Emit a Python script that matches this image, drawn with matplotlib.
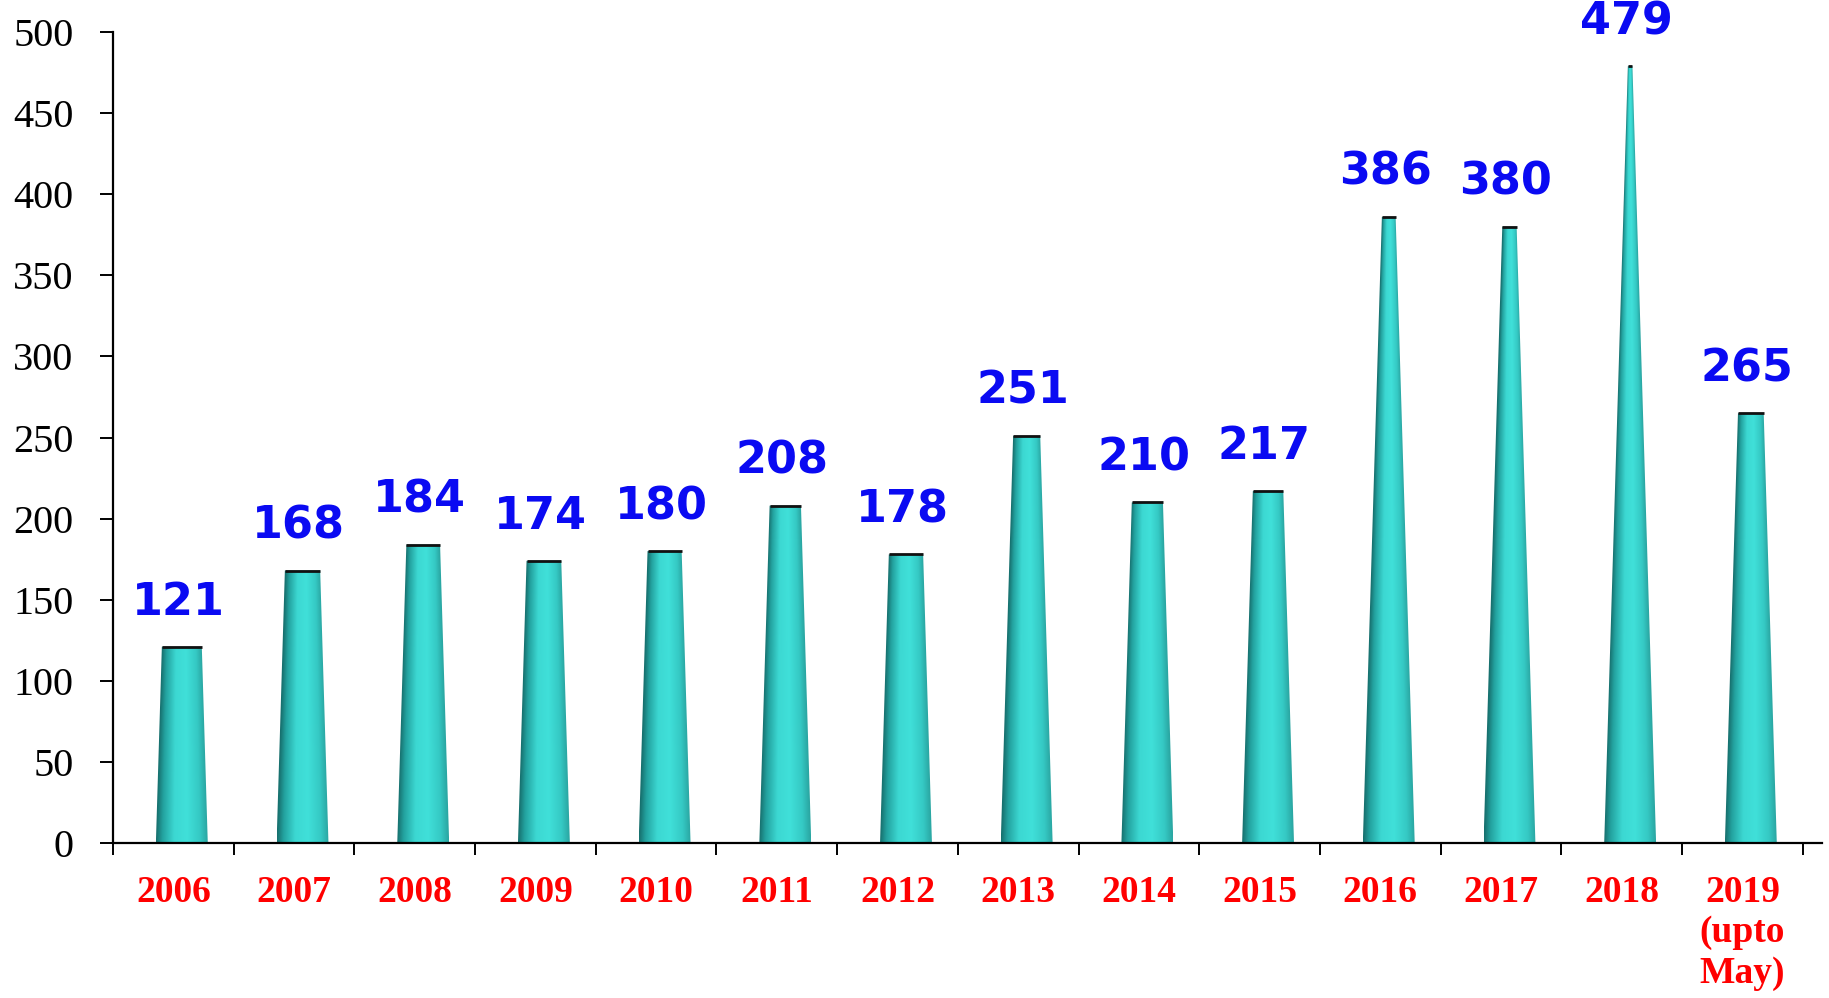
import numpy as np
import matplotlib
matplotlib.use("Agg")
import matplotlib.pyplot as plt
from matplotlib.colors import LinearSegmentedColormap
from matplotlib.patches import Polygon

years = ["2006", "2007", "2008", "2009", "2010", "2011", "2012",
         "2013", "2014", "2015", "2016", "2017", "2018", "2019\n(upto\nMay)"]
counts = [121, 168, 184, 174, 180, 208, 178, 251, 210, 217, 386, 380, 479, 265]
yticks = [0, 50, 100, 150, 200, 250, 300, 350, 400, 450, 500]

# cone look
APEX = 525          # height where the cone would come to a point
HALF_W = 0.215      # half width at the base, category units
SHIFT = 0.07        # cones sit a little right of the category centre

shade = LinearSegmentedColormap.from_list(
    "cone", [(0.0, "#17706e"), (0.12, "#23a29f"), (0.35, "#3cd8d2"),
             (0.6, "#40e0d9"), (0.85, "#35c9c4"), (1.0, "#2aa6a2")])

fig = plt.figure(figsize=(18.29, 9.98), dpi=100)
ax = fig.add_axes([0.0618, 0.1553, 0.9344, 0.8126])

for i, v in enumerate(counts):
    c = i + 0.5 + SHIFT
    wt = HALF_W * (1 - v / APEX)
    # gradient that follows the cone's local width on every row
    ys = np.linspace(0, v, 300)
    xs = np.linspace(c - HALF_W, c + HALF_W, 200)
    X, Y = np.meshgrid(xs, ys)
    w = HALF_W * (1 - Y / APEX)
    u = np.clip((X - (c - w)) / (2 * w), 0, 1)
    poly = Polygon([(c - HALF_W, 0), (c + HALF_W, 0), (c + wt, v), (c - wt, v)],
                   closed=True, facecolor="none", edgecolor="none")
    ax.add_patch(poly)
    im = ax.imshow(u, cmap=shade, vmin=0, vmax=1, origin="lower", aspect="auto",
                   extent=(c - HALF_W, c + HALF_W, 0, v), interpolation="bilinear",
                   zorder=2)
    im.set_clip_path(poly)
    ax.plot([c - wt, c + wt], [v, v], color="#111111", lw=2, zorder=3,
            solid_capstyle="butt")
    ax.annotate(str(v), (c - 0.03, v), xytext=(0, 32), textcoords="offset points",
                ha="center", va="center", fontsize=32, fontweight="bold",
                color="#0a0af2", family="DejaVu Sans", annotation_clip=False)

ax.set_xlim(0, 14.16)
ax.set_ylim(0, 500)
for s in ("top", "right"):
    ax.spines[s].set_visible(False)
ax.spines["left"].set_linewidth(1.6)
ax.spines["bottom"].set_linewidth(1.6)
ax.spines["left"].set_bounds(0, 500)

ax.set_yticks(yticks)
ax.set_yticklabels([str(t) for t in yticks], family="Liberation Serif", fontsize=29)
ax.tick_params(axis="y", direction="out", length=9.5, width=1.4, pad=19)

ax.set_xticks(range(len(years) + 1))
ax.set_xticklabels([])
ax.tick_params(axis="x", which="major", direction="out", length=8.5, width=1.4)
ax.set_xticks([i + 0.5 for i in range(len(years))], minor=True)
ax.set_xticklabels(years, minor=True, family="Liberation Serif", fontsize=27,
                   fontweight="bold", color="#ff0000", va="top")
ax.tick_params(axis="x", which="minor", length=0, pad=23)
for lbl in ax.get_xticklabels(minor=True):
    lbl.set_linespacing(1.2)

fig.savefig("out.png", dpi=100)
